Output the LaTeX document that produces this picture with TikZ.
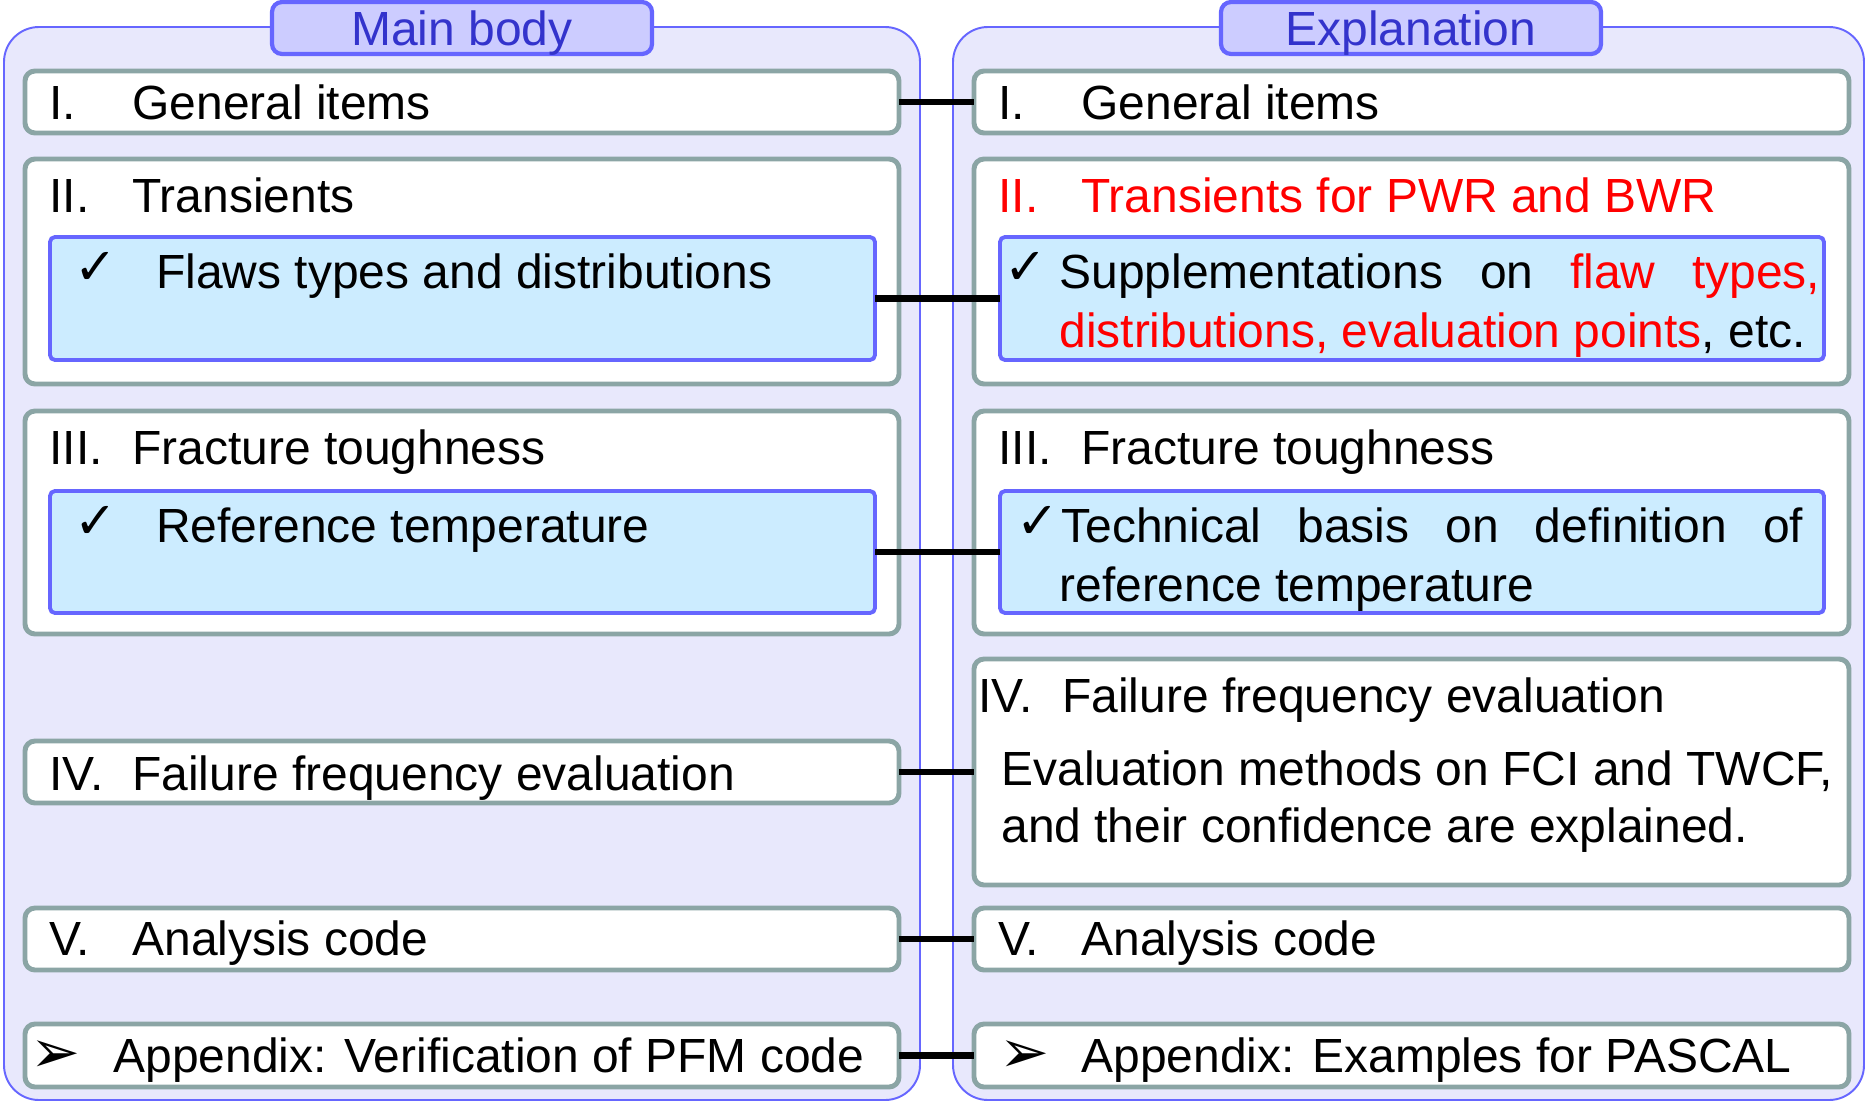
\documentclass[tikz,border=0pt]{standalone}
\usepackage{fontspec}
\setmainfont{Liberation Sans}
\newfontfamily\symfont{DejaVu Sans}
\usepackage{tikz}

\definecolor{panelfill}{HTML}{E8E8FC}
\definecolor{paneldraw}{HTML}{6666FF}
\definecolor{tabfill}{HTML}{CCCCFF}
\definecolor{tabtext}{HTML}{3333CC}
\definecolor{itemdraw}{HTML}{8BA5A5}
\definecolor{subfill}{HTML}{CCECFF}

\newcommand{\chk}{{\symfont\fontsize{29}{29}\selectfont ✓}}
\newcommand{\pointer}{{\symfont\fontsize{34}{34}\selectfont ➢}}

\tikzset{
  panel/.style={draw=paneldraw, fill=panelfill, line width=1.1pt, rounded corners=0.7cm},
  tabbox/.style={draw=paneldraw, fill=tabfill, line width=2.4pt, rounded corners=0.2cm,
    outer sep=0pt, inner sep=0pt, anchor=north west},
  itembox/.style={draw=itemdraw, fill=white, line width=2.8pt, rounded corners=0.2cm,
    outer sep=0pt, inner sep=0pt, anchor=north west},
  subbox/.style={draw=paneldraw, fill=subfill, line width=2.2pt, rounded corners=0.1cm,
    outer sep=0pt, inner sep=0pt, anchor=north west},
  boxsize/.style 2 args={minimum width=#1*0.02cm, minimum height=#2*0.02cm},
  txt/.style={anchor=base west, inner sep=0pt},
  tabtxt/.style={anchor=base, inner sep=0pt, text=tabtext},
  link/.style={line width=3.8pt, black},
}

\begin{document}
\begin{tikzpicture}[x=0.02cm, y=-0.02cm, font=\fontsize{27.3}{33}\selectfont]
  % 1 unit = 1 pixel of the 1865 x 1102 layout, y downwards
  \useasboundingbox (0,0) rectangle (1865,1102);
  \draw[panel] (4,27) rectangle (920,1100);
  \draw[panel] (953,27) rectangle (1864,1100);
  \node[tabbox, boxsize={380}{52}] (maintab) at (272,2) {};
  \node[tabbox, boxsize={380}{52}] (expltab) at (1221,2) {};
  \node[tabtxt] (maintitle) at (462,45) {Main body};
  \node[tabtxt] (expltitle) at (1411,45) {Explanation};

  % main body column
  \node[itembox, boxsize={874}{62}] (gen-l) at (25,71) {};
  \node[txt] (gen-l-no) at (49,119) {I.};
  \node[txt] (gen-l-tx) at (132,119) {General items};
  \node[itembox, boxsize={874}{225}] (trn-l) at (25,159) {};
  \node[txt] (trn-l-no) at (49,212) {II.};
  \node[txt] (trn-l-tx) at (132,212) {Transients};
  \node[subbox, boxsize={825}{123}] (flaw-l) at (50,237) {};
  \node[txt] (flaw-l-ck) at (74,284) {\chk};
  \node[txt] (flaw-l-tx) at (156,288) {Flaws types and distributions};
  \node[itembox, boxsize={874}{223}] (frac-l) at (25,411) {};
  \node[txt] (frac-l-no) at (49,464) {III.};
  \node[txt] (frac-l-tx) at (132,464) {Fracture toughness};
  \node[subbox, boxsize={825}{122}] (rtmp-l) at (50,491) {};
  \node[txt] (rtmp-l-ck) at (74,538) {\chk};
  \node[txt] (rtmp-l-tx) at (156,542) {Reference temperature};
  \node[itembox, boxsize={874}{62}] (fail-l) at (25,741) {};
  \node[txt] (fail-l-no) at (49,790) {IV.};
  \node[txt] (fail-l-tx) at (132,790) {Failure frequency evaluation};
  \node[itembox, boxsize={874}{62}] (code-l) at (25,908) {};
  \node[txt] (code-l-no) at (49,955) {V.};
  \node[txt] (code-l-tx) at (132,955) {Analysis code};
  \node[itembox, boxsize={874}{63}] (appx-l) at (25,1024) {};
  \node[txt] (appx-l-pt) at (30,1072) {\pointer};
  \node[txt] (appx-l-tx) at (113,1072) {Appendix: Verification of PFM code};

  % explanation column
  \node[itembox, boxsize={875}{62}] (gen-r) at (974,71) {};
  \node[txt] (gen-r-no) at (998,119) {I.};
  \node[txt] (gen-r-tx) at (1081,119) {General items};
  \node[itembox, boxsize={875}{225}] (trn-r) at (974,159) {};
  \node[txt, text=red] (trn-r-no) at (998,212) {II.};
  \node[txt, text=red] (trn-r-tx) at (1081,212) {Transients for PWR and BWR};
  \node[subbox, boxsize={824}{123}] (flaw-r) at (1000,237) {};
  \node[txt] (flaw-r-ck) at (1004,284) {\chk};
  \node[txt] (flaw-r-tx1) at (1059,288)
    {\makebox[15.22cm][s]{Supplementations on \textcolor{red}{flaw} \textcolor{red}{types,}}};
  \node[txt] (flaw-r-tx2) at (1059,347)
    {\textcolor{red}{distributions, evaluation points}, etc.};
  \node[itembox, boxsize={875}{223}] (frac-r) at (974,411) {};
  \node[txt] (frac-r-no) at (998,464) {III.};
  \node[txt] (frac-r-tx) at (1081,464) {Fracture toughness};
  \node[subbox, boxsize={824}{122}] (rtmp-r) at (1000,491) {};
  \node[txt] (rtmp-r-ck) at (1016,538) {\chk};
  \node[txt] (rtmp-r-tx1) at (1061,542)
    {\makebox[14.84cm][s]{Technical basis on definition of}};
  \node[txt] (rtmp-r-tx2) at (1059,601) {reference temperature};
  \node[itembox, boxsize={875}{226}] (fail-r) at (974,659) {};
  \node[txt] (fail-r-no) at (978,712) {IV.};
  \node[txt] (fail-r-tx) at (1062,712) {Failure frequency evaluation};
  \node[txt] (fail-r-tx1) at (1001,785) {Evaluation methods on FCI and TWCF,};
  \node[txt] (fail-r-tx2) at (1001,842) {and their confidence are explained.};
  \node[itembox, boxsize={875}{62}] (code-r) at (974,908) {};
  \node[txt] (code-r-no) at (998,955) {V.};
  \node[txt] (code-r-tx) at (1081,955) {Analysis code};
  \node[itembox, boxsize={875}{63}] (appx-r) at (974,1024) {};
  \node[txt] (appx-r-pt) at (999,1072) {\pointer};
  \node[txt] (appx-r-tx) at (1081,1072) {Appendix: Examples for PASCAL};

  % links between the two columns
  \draw[link] (gen-l.east) -- (gen-r.west);
  \draw[link] (flaw-l.east) -- (flaw-r.west);
  \draw[link] (rtmp-l.east) -- (rtmp-r.west);
  \draw[link] (fail-l.east) -- (fail-r.west);
  \draw[link] (code-l.east) -- (code-r.west);
  \draw[link] (appx-l.east) -- (appx-r.west);
\end{tikzpicture}
\end{document}
